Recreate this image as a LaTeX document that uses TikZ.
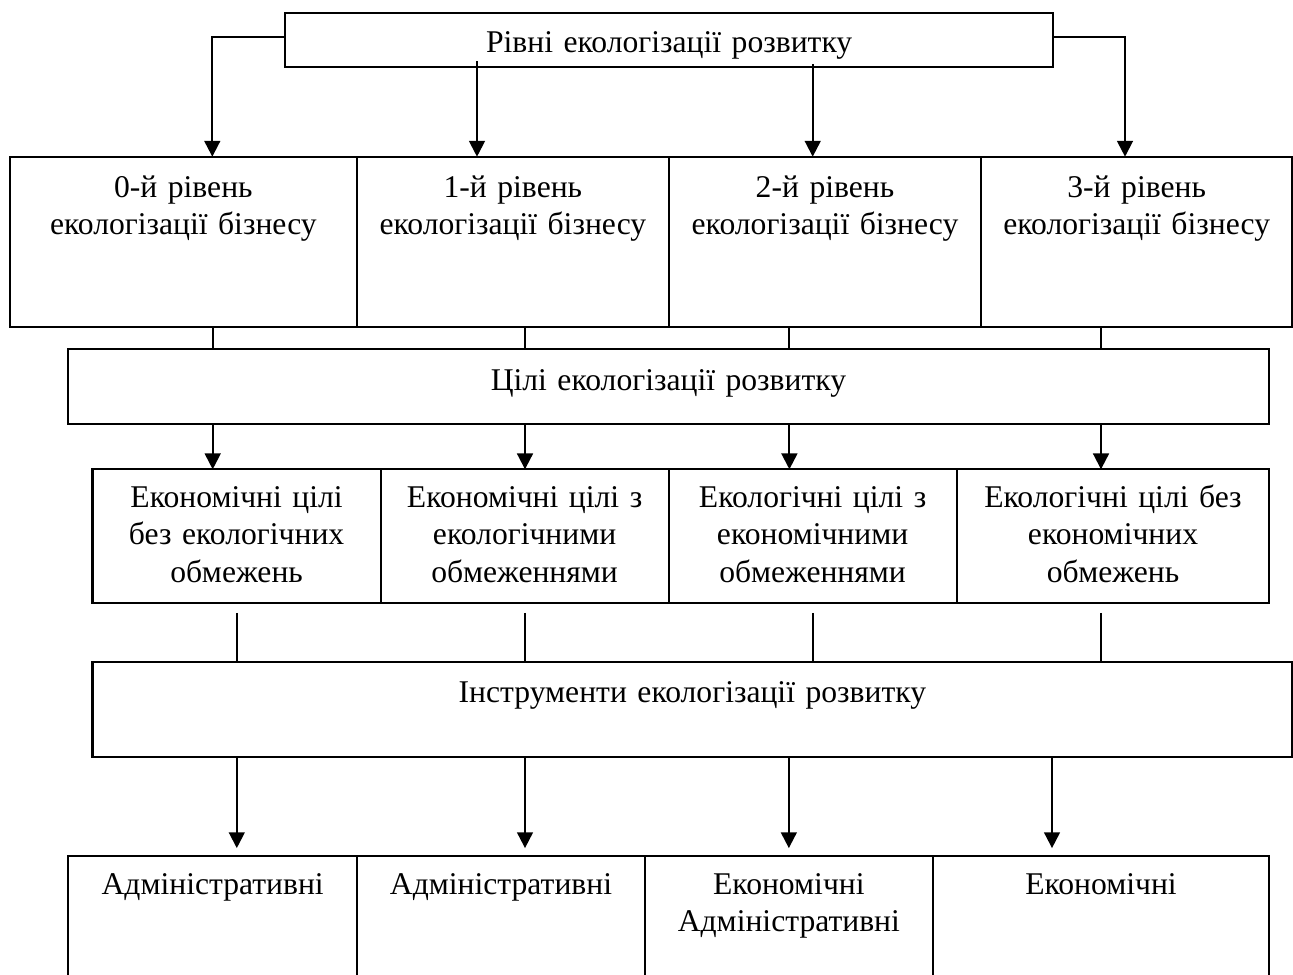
\documentclass[tikz,border=0pt]{standalone}
\usepackage{fontspec}
\setmainfont{Liberation Serif}
\usetikzlibrary{arrows.meta}
\newdimen\pxu
\pxu=0.02cm
\newcommand{\tikzBlockNode}[6]{
  \node[block,text width=#3\pxu,text height=#4\pxu,text depth=#5\pxu] (#1) at (#2) {#6};
}

\begin{document}
\begin{tikzpicture}[x=0.02cm,y=-0.02cm,
  block/.style={draw,line width=1.15pt,inner sep=0pt,outer sep=0pt,anchor=north west,
    align=center,font=\fontsize{18pt}{21.3pt}\selectfont},
  conn/.style={draw,line width=1.15pt},
  arrconn/.style={conn,-{Triangle[length=9pt,width=9pt]}}]

  \useasboundingbox (0,0) rectangle (1293,974);
  \clip (0,0) rectangle (1293,974);

  \tikzBlockNode{top}{285,12.7}{768.3}{39.9}{14.7}{Рівні екологізації розвитку}

  % levels
  \tikzBlockNode{lvl0}{10,156.7}{346.7}{40.6}{130}{0-й рівень\\ екологізації бізнесу}
  \tikzBlockNode{lvl1}{356.7,156.7}{312.3}{40.6}{130}{1-й рівень\\ екологізації бізнесу}
  \tikzBlockNode{lvl2}{669,156.7}{312}{40.6}{130}{2-й рівень\\ екологізації бізнесу}
  \tikzBlockNode{lvl3}{981,156.7}{311.3}{40.6}{130}{3-й рівень\\ екологізації бізнесу}

  \tikzBlockNode{goals}{68.4,349.3}{1200.1}{40.7}{34}{Цілі екологізації розвитку}

  % goals
  \tikzBlockNode{g0}{92.5,469.3}{288.2}{38}{95.5}{Економічні цілі\\ без екологічних\\ обмежень}
  \tikzBlockNode{g1}{380.7,469.3}{287.8}{38}{95.5}{Економічні цілі з\\ екологічними\\ обмеженнями}
  \tikzBlockNode{g2}{668.5,469.3}{288.2}{38}{95.5}{Екологічні цілі з\\ економічними\\ обмеженнями}
  \tikzBlockNode{g3}{956.7,469.3}{312.6}{38}{95.5}{Екологічні цілі без\\ економічних\\ обмежень}

  \tikzBlockNode{tools}{92.5,661.7}{1199.8}{40.6}{54.4}{Інструменти екологізації розвитку}

  % instruments
  \tikzBlockNode{i0}{68.4,856}{288.6}{38.3}{95.7}{Адміністративні}
  \tikzBlockNode{i1}{357,856}{288}{38.3}{95.7}{Адміністративні}
  \tikzBlockNode{i2}{645,856}{287.7}{38.3}{95.7}{Економічні\\ Адміністративні}
  \tikzBlockNode{i3}{932.7,856}{336.6}{38.3}{95.7}{Економічні}

  \draw[arrconn] (top.north west) ++(0,24) -| (lvl0.north -| 212.3,0);
  \draw[arrconn,shorten <=-3.4pt] (top.south -| 477,0) -- (lvl1.north -| 477,0);
  \draw[arrconn,shorten <=-1.7pt] (top.south -| 812.7,0) -- (lvl2.north -| 812.7,0);
  \draw[arrconn] (top.north east) ++(0,24) -| (lvl3.north -| 1125,0);

  \draw[conn] (lvl0.south -| 212.7,0) -- (goals.north -| 212.7,0);
  \draw[conn] (lvl1.south -| 525,0) -- (goals.north -| 525,0);
  \draw[conn] (lvl2.south -| 789,0) -- (goals.north -| 789,0);
  \draw[conn] (lvl3.south -| 1101,0) -- (goals.north -| 1101,0);

  \draw[arrconn] (goals.south -| 212.7,0) -- (g0.north -| 212.7,0);
  \draw[arrconn] (goals.south -| 525,0) -- (g1.north -| 525,0);
  \draw[arrconn] (goals.south -| 789.4,0) -- (g2.north -| 789.4,0);
  \draw[arrconn] (goals.south -| 1101,0) -- (g3.north -| 1101,0);

  \draw[conn,shorten <=5.7pt] (g0.south) -- (tools.north -| g0.south);
  \draw[conn,shorten <=5.7pt] (g1.south) -- (tools.north -| g1.south);
  \draw[conn,shorten <=5.7pt] (g2.south) -- (tools.north -| g2.south);
  \draw[conn,shorten <=5.7pt] (g3.south -| 1101,0) -- (tools.north -| 1101,0);

  \draw[arrconn,shorten >=4.5pt] (tools.south -| 236.8,0) -- (i0.north -| 236.8,0);
  \draw[arrconn,shorten >=4.5pt] (tools.south -| 525,0) -- (i1.north -| 525,0);
  \draw[arrconn,shorten >=4.5pt] (tools.south -| i2.north) -- (i2.north);
  \draw[arrconn,shorten >=4.5pt] (tools.south -| 1052,0) -- (i3.north -| 1052,0);

\end{tikzpicture}
\end{document}
